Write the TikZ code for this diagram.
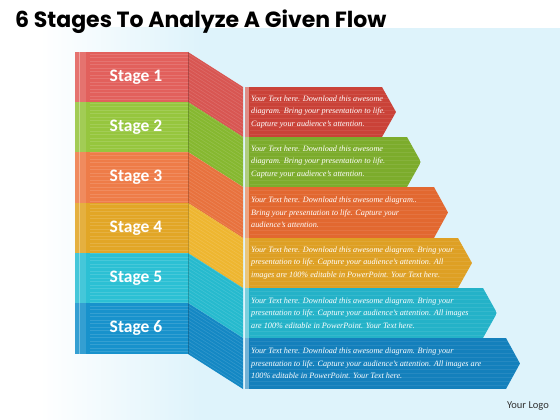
\documentclass[tikz,border=0pt]{standalone}
\usepackage{fontspec}
\setmainfont{Liberation Serif}
\newfontfamily\titlefont{Poppins}
\newfontfamily\stagefont{Carlito}
\definecolor{bgblue}{RGB}{222,243,251}
\definecolor{fr1}{RGB}{226,96,92}
\definecolor{fr2}{RGB}{150,198,62}
\definecolor{fr3}{RGB}{238,124,72}
\definecolor{fr4}{RGB}{226,166,38}
\definecolor{fr5}{RGB}{44,192,212}
\definecolor{fr6}{RGB}{24,146,204}
\definecolor{sd1}{RGB}{216,86,82}
\definecolor{sd2}{RGB}{134,184,48}
\definecolor{sd3}{RGB}{232,114,62}
\definecolor{sd4}{RGB}{238,182,48}
\definecolor{sd5}{RGB}{38,186,206}
\definecolor{sd6}{RGB}{20,136,196}
\definecolor{pn1}{RGB}{202,66,56}
\definecolor{pn2}{RGB}{124,172,44}
\definecolor{pn3}{RGB}{226,104,48}
\definecolor{pn4}{RGB}{222,160,36}
\definecolor{pn5}{RGB}{36,178,200}
\definecolor{pn6}{RGB}{20,128,188}
\definecolor{logogray}{RGB}{50,50,50}
\tikzset{
  stagelabel/.style={text=white,font=\stagefont\bfseries\fontsize{17.5}{20}\selectfont},
  paneltext/.style={anchor=west,align=left,text=white,font=\itshape\fontsize{8.2}{12.5}\selectfont,inner sep=0pt},
  stripe/.style={white,opacity=0.13,line width=0.6pt}
}
\begin{document}
\begin{tikzpicture}[x=1pt,y=-1pt]
\useasboundingbox (0,0) rectangle (560,420);
\fill[white] (0,0) rectangle (560,420);
\fill[bgblue] (200,28) rectangle (560,420);
\shade[left color=white,right color=bgblue] (40,28) rectangle (200.5,420);
% title
\node[anchor=base west,inner sep=0pt,font=\titlefont\bfseries\fontsize{22}{26}\selectfont] (title) at (15,28) {6 Stages To Analyze A Given Flow};
% bands
\foreach \i/\t/\b/\tip in {1/52/102/396,2/102/152/421,3/152/203/448,4/203/253/472,5/253/303/497,6/303/354/520}{
  \fill[fr\i] (75,\t) rectangle (188,\b);
  \fill[sd\i] (188,\t) -- (243,\t+35) -- (243,\b+35) -- (188,\b) -- cycle;
  \begin{scope}
    \clip (245,\t+35) -- (\tip-14,\t+35) -- (\tip,{(\t+\b)/2+35}) -- (\tip-14,\b+35) -- (245,\b+35) -- cycle;
    \fill[pn\i] (245,\t+35) rectangle (\tip,\b+35);
    \foreach \y in {3,7,...,50}{\draw[white,opacity=0.08,line width=0.5pt] (250,\t+35+\y) -- (\tip,\t+35+\y);}
    \fill[white,opacity=0.4] (245,\t+35) rectangle (249,\b+35);
  \end{scope}
}
% stripes on front and side faces
\foreach \y in {54,57.5,...,352}{
  \draw[stripe] (90,\y) -- (188,\y);
  \draw[stripe] (188,\y) -- (243,\y+35);
}
\fill[white,opacity=0.12] (75,52) rectangle (86,354);
\draw[white,opacity=0.35,line width=0.8pt] (79,52) -- (79,354);
\draw[black,opacity=0.2,line width=0.5pt] (188,52) -- (188,354);
% stage labels
\foreach \i/\t/\b in {1/52/102,2/102/152,3/152/203,4/203/253,5/253/303,6/303/354}{
  \node[stagelabel] (s\i) at (136,{(\t+\b)/2}) {Stage \i};
}
% panel texts
\node[paneltext] (p1) at (251,112) {Your Text here. Download this awesome\\diagram. Bring your presentation to life.\\Capture your audience's attention.};
\node[paneltext] (p2) at (251,162) {Your Text here. Download this awesome\\diagram. Bring your presentation to life.\\Capture your audience's attention.};
\node[paneltext] (p3) at (251,212.5) {Your Text here. Download this awesome diagram..\\Bring your presentation to life. Capture your\\audience's attention.};
\node[paneltext] (p4) at (251,263) {Your Text here. Download this awesome diagram. Bring your\\presentation to life. Capture your audience's attention. All\\images are 100\% editable in PowerPoint. Your Text here.};
\node[paneltext] (p5) at (251,313) {Your Text here. Download this awesome diagram. Bring your\\presentation to life. Capture your audience's attention. All images\\are 100\% editable in PowerPoint. Your Text here.};
\node[paneltext] (p6) at (251,363.5) {Your Text here. Download this awesome diagram. Bring your\\presentation to life. Capture your audience's attention. All images are\\100\% editable in PowerPoint. Your Text here.};
% logo
\node[text=logogray,font=\stagefont\fontsize{10.5}{12}\selectfont] (logo) at (528,406) {Your Logo};
\end{tikzpicture}
\end{document}
